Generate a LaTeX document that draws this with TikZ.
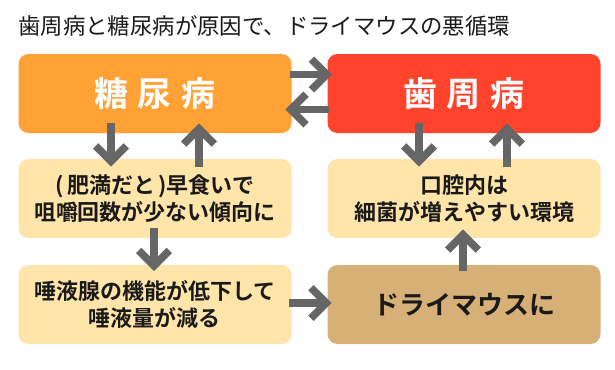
\documentclass[tikz,border=0pt]{standalone}
\usepackage{fontspec}
\setmainfont{Noto Sans CJK JP}[BoldFont={Noto Sans CJK JP Bold}]
\usetikzlibrary{arrows.meta,calc}
\definecolor{cOrange}{HTML}{FFA134}
\definecolor{cRed}{HTML}{FF432C}
\definecolor{cLight}{HTML}{FFE5A9}
\definecolor{cTan}{HTML}{D7B077}
\definecolor{cGray}{HTML}{666666}
\definecolor{cText}{HTML}{1A1A1A}
\begin{document}
\begin{tikzpicture}[x=0.75pt,y=-0.75pt,
  box/.style={rounded corners=7.5pt, minimum width=204.75pt, minimum height=59.25pt,
    inner sep=0pt, align=center, text=cText},
  bigtxt/.style={font=\fontsize{25.5pt}{30pt}\selectfont\bfseries, text=white},
  midtxt/.style={font=\fontsize{16.5pt}{20.25pt}\selectfont\bfseries},
  arr/.style={draw=cGray, line width=5.8pt,
    -{Straight Barb[length=11.5pt,width=23pt,line cap=butt,line join=miter]}}
]
\useasboundingbox (0,0) rectangle (615,369);
\node[anchor=west, text=cText, font=\fontsize{16.8pt}{20pt}\selectfont, inner sep=0pt]
  (title) at (18,26) {歯周病と糖尿病が原因で、ドライマウスの悪循環};
\node[box, fill=cOrange, bigtxt] (dm) at (155,93.5) {糖\hspace{7.5pt}尿\hspace{7.5pt}病};
\node[box, fill=cRed, bigtxt] (pd) at (464,93.5) {歯\hspace{7.5pt}周\hspace{7.5pt}病};
\node[box, fill=cLight, midtxt] (eat) at (155,198.5) {(\hspace{2.5pt}肥満だと\hspace{2.5pt})早食いで\\咀嚼回数が少ない傾向に};
\node[box, fill=cLight, midtxt] (oral) at (464,198.5) {口腔内は\\細菌が増えやすい環境};
\node[box, fill=cLight, midtxt] (sal) at (155,304.5) {唾液腺の機能が低下して\\唾液量が減る};
\node[box, fill=cTan, font=\fontsize{19.5pt}{24pt}\selectfont\bfseries] (dry) at (464,304.5) {ドライマウスに};
% horizontal arrows between top boxes
\draw[arr] ($(dm.east)+(-2,-19)$) -- ($(pd.west)+(5,-19)$);
\draw[arr] ($(pd.west)+(1.5,16)$) -- ($(dm.east)+(-6.5,16)$);
% left column
\draw[arr] ($(dm.south)+(-44,-10)$) -- ($(eat.north)+(-44,8)$);
\draw[arr] ($(eat.north)+(44,8)$) -- ($(dm.south)+(44,-10)$);
\draw[arr] ($(eat.south)+(-1,-10)$) -- ($(sal.north)+(-1,6.5)$);
% right column
\draw[arr] ($(pd.south)+(-45,-10)$) -- ($(oral.north)+(-45,8)$);
\draw[arr] ($(oral.north)+(43,8)$) -- ($(pd.south)+(43,-10)$);
\draw[arr] ($(dry.north)+(-1,6.5)$) -- ($(oral.south)+(-1,-9)$);
% bottom
\draw[arr] ($(sal.east)+(-3,-1.5)$) -- ($(dry.west)+(4.5,-1.5)$);
\end{tikzpicture}
\end{document}
